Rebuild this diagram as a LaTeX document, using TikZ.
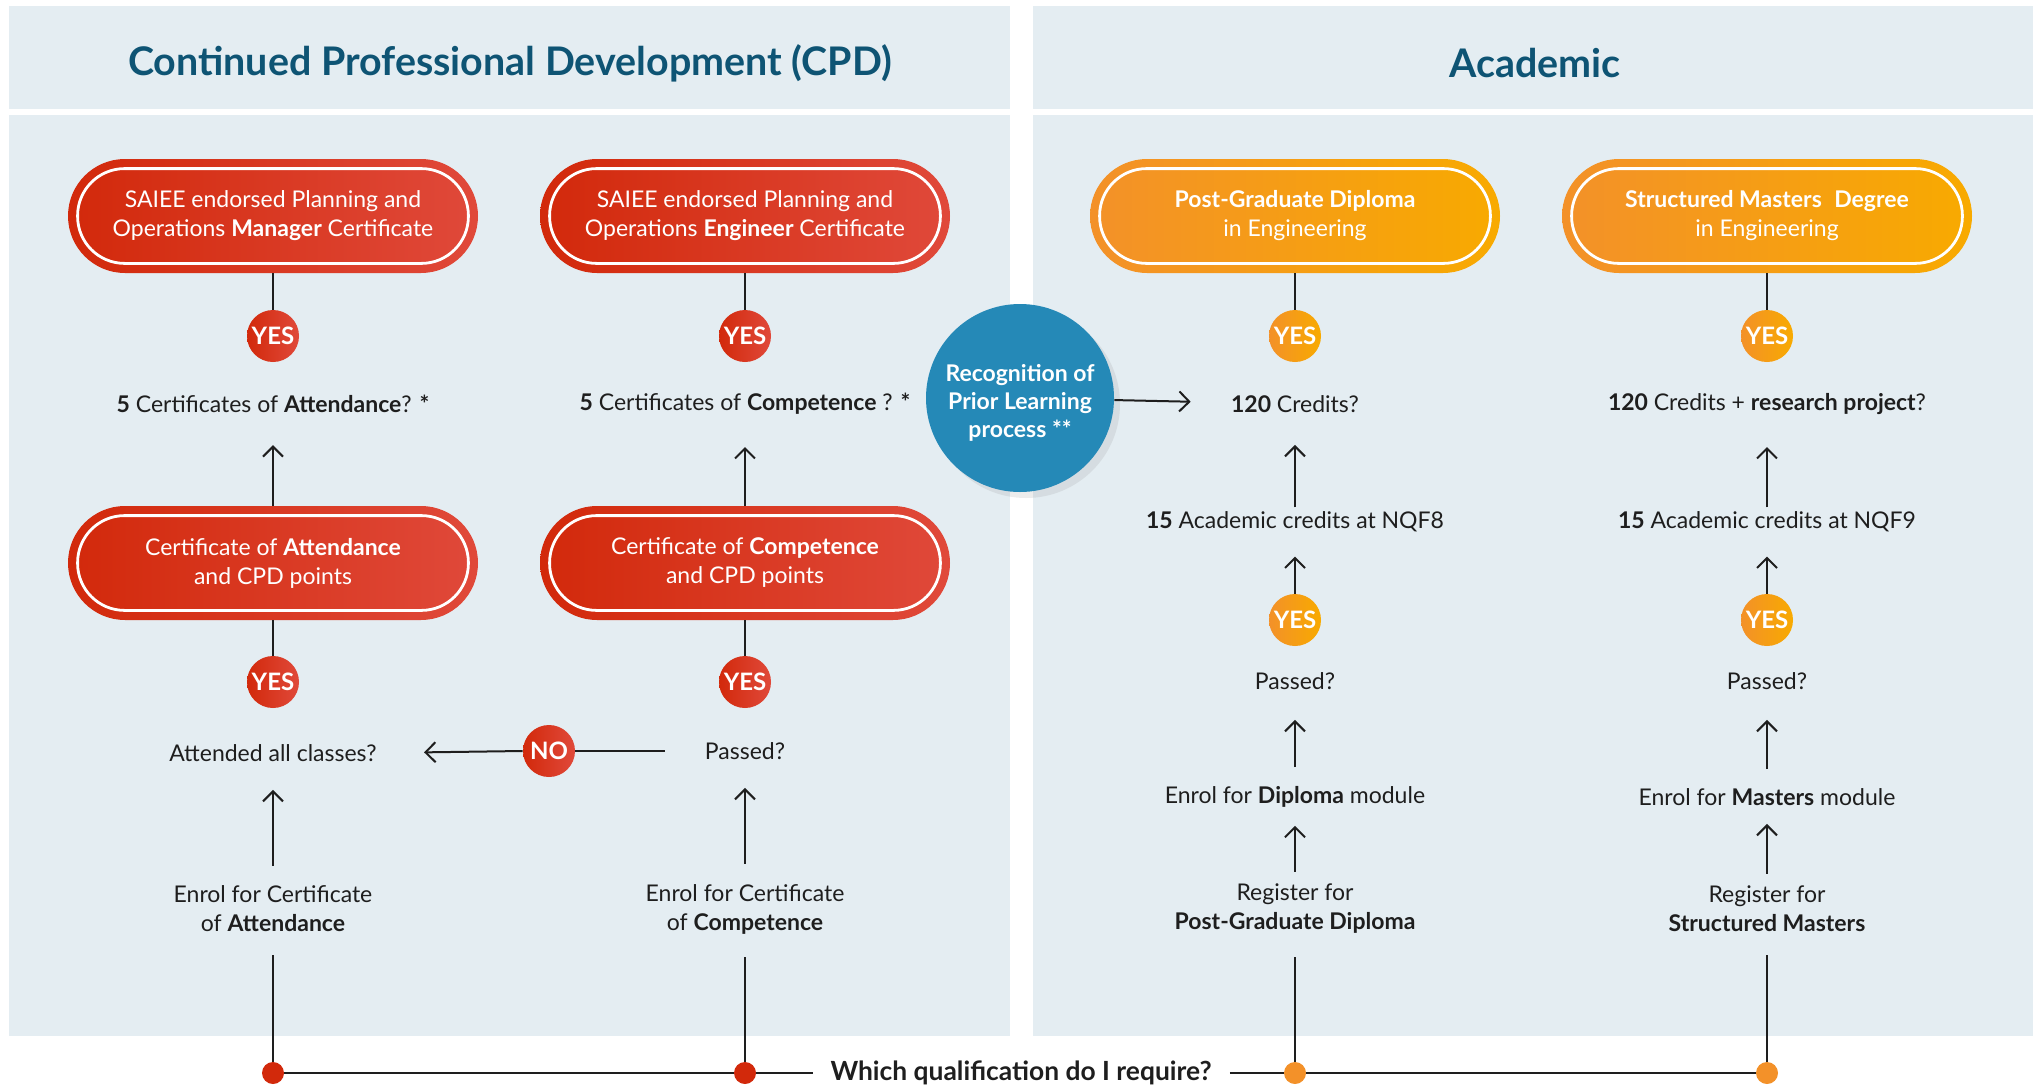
\documentclass[tikz,border=0pt]{standalone}
\usepackage{fontspec}
\setmainfont{Lato}
\usetikzlibrary{arrows.meta,shadows}

\definecolor{panel}{HTML}{E4EDF2}
\definecolor{title}{HTML}{0E5474}
\definecolor{redL}{HTML}{D2290B}
\definecolor{redR}{HTML}{E0493A}
\definecolor{orL}{HTML}{F39129}
\definecolor{orR}{HTML}{F8AA00}
\definecolor{rplblue}{HTML}{2589B7}
\definecolor{ink}{HTML}{1E1E1E}

\tikzset{
  pill/.style={rectangle, rounded corners=28.5pt, minimum width=205pt, minimum height=57pt,
    align=center, text=white, font=\fontsize{11.5}{14.5}\selectfont},
  redpill/.style={pill, left color=redL, right color=redR},
  orpill/.style={pill, left color=orL, right color=orR},
  yes/.style={circle, minimum size=26pt, inner sep=0pt, text=white, font=\fontsize{12}{14}\selectfont\bfseries},
  redyes/.style={yes, left color=redL, right color=redR},
  oryes/.style={yes, left color=orL, right color=orR},
  txt/.style={align=center, text=ink, inner sep=0pt, font=\fontsize{11.5}{14.5}\selectfont},
  hdr/.style={text=title, font=\fontsize{19.7}{22}\selectfont\bfseries},
  dot/.style={circle, minimum size=11pt, inner sep=0pt, fill=#1},
  link/.style={draw=ink, line width=1pt},
  arr/.style={link, -{Straight Barb[length=5pt,width=10pt]}},
}

\begin{document}
\begin{tikzpicture}[x=0.5pt,y=-0.5pt]
  \useasboundingbox (0,0) rectangle (2035,1087);
  % panels
  \fill[panel] (9,6) rectangle (1010,109);
  \fill[panel] (9,115) rectangle (1010,1036);
  \fill[panel] (1033,6) rectangle (2033,109);
  \fill[panel] (1033,115) rectangle (2033,1036);
  \node[hdr] (cpd) at (510,63) {Continued Professional Development (CPD)};
  \node[hdr] (acad) at (1535,63) {Academic};

  % CPD
  \node[redpill] (mgr) at (273,216) {SAIEE endorsed Planning and\\Operations \textbf{Manager} Certificate};
  \node[redpill] (eng) at (745,216) {SAIEE endorsed Planning and\\Operations \textbf{Engineer} Certificate};
  \node[redyes] (y1) at (273,336) {YES};
  \node[redyes] (y2) at (745,336) {YES};
  \node[txt] (q5a) at (273,404) {\textbf{5} Certificates of \textbf{Attendance}? \textbf{*}};
  \node[txt] (q5b) at (745,404) {\textbf{5} Certificates of \textbf{Competence} ? \textbf{*}};
  \node[redpill] (att) at (273,563) {Certificate of \textbf{Attendance}\\and CPD points};
  \node[redpill] (comp) at (745,563) {Certificate of \textbf{Competence}\\and CPD points};
  \node[redyes] (y3) at (273,682) {YES};
  \node[redyes] (y4) at (745,682) {YES};
  \node[txt] (attd) at (273,753) {Attended all classes?};
  \node[txt] (pass) at (745,751) {Passed?};
  \node[redyes] (no) at (549,751) {NO};
  \node[txt] (enra) at (273,909) {Enrol for Certificate\\of \textbf{Attendance}};
  \node[txt] (enrb) at (745,909) {Enrol for Certificate\\of \textbf{Competence}};

  % RPL
  \node[circle, minimum size=94pt, inner sep=0pt, fill=rplblue,
    drop shadow={opacity=0.15, shadow xshift=3pt, shadow yshift=-3pt},
    label={[text=white, align=center, font=\fontsize{11.5}{14}\selectfont\bfseries, yshift=-2.5pt]center:Recognition of\\Prior Learning\\process **}]
    (rpl) at (1020,398) {};

  % Academic
  \node[orpill] (pgd) at (1295,216) {\textbf{Post-Graduate Diploma}\\in Engineering};
  \node[orpill] (msd) at (1767,216) {\textbf{Structured Masters\hspace{0.3em} Degree}\\in Engineering};
  \node[oryes] (y5) at (1295,336) {YES};
  \node[oryes] (y6) at (1767,336) {YES};
  \node[txt] (cr) at (1295,404) {\textbf{120} Credits?};
  \node[txt] (crm) at (1767,404) {\textbf{120} Credits + \textbf{research project}?};
  \node[txt] (nqf8) at (1295,522) {\textbf{15} Academic credits at NQF8};
  \node[txt] (nqf9) at (1767,522) {\textbf{15} Academic credits at NQF9};
  \node[oryes] (y7) at (1295,620) {YES};
  \node[oryes] (y8) at (1767,620) {YES};
  \node[txt] (passc) at (1295,681) {Passed?};
  \node[txt] (passd) at (1767,681) {Passed?};
  \node[txt] (enrc) at (1295,797) {Enrol for \textbf{Diploma} module};
  \node[txt] (enrd) at (1767,797) {Enrol for \textbf{Masters} module};
  \node[txt] (regc) at (1295,909) {Register for\\\textbf{Post-Graduate Diploma}};
  \node[txt] (regd) at (1767,909) {Register for\\\textbf{Structured Masters}};

  % bottom
  \node[dot=redL] (da) at (273,1073) {};
  \node[dot=redL] (db) at (745,1073) {};
  \node[dot=orL] (dc) at (1295,1073) {};
  \node[dot=orL] (dd) at (1767,1073) {};
  \node[txt, font=\fontsize{13.2}{15}\selectfont\bfseries] (ask) at (1021,1073) {Which qualification do I require?};

  \foreach \p in {mgr,eng,att,comp,pgd,msd}
    \draw[white, line width=1.4pt, rounded corners=23.5pt]
      ([xshift=5pt,yshift=-5pt]\p.north west) rectangle ([xshift=-5pt,yshift=5pt]\p.south east);

  \foreach \a/\b in {mgr/y1,eng/y2,att/y3,comp/y4,pgd/y5,msd/y6}
    \draw[link] (\a.south) -- (\b.north);

  \draw[arr, shorten >=16pt] (att.north) -- (q5a.south);
  \draw[arr, shorten >=16pt] (comp.north) -- (q5b.south);
  \draw[arr, shorten <=10pt, shorten >=14pt] (enra.north) -- (attd.south);
  \draw[arr, shorten <=10pt, shorten >=14pt] (enrb.north) -- (pass.south);
  \draw[link, shorten <=20pt] (pass.west) -- (no.east);
  \draw[arr, shorten >=23.5pt] (no.west) -- (attd.east);
  \draw[arr, shorten >=20pt] (rpl) -- (cr);

  \foreach \c in {c,d}{
    \draw[arr, shorten <=6pt, shorten >=9pt] (reg\c.north) -- (enr\c.south);
    \draw[arr, shorten <=9.5pt, shorten >=15pt] (enr\c.north) -- (pass\c.south);
  }
  \draw[arr, shorten >=12pt] (y7.north) -- (nqf8.south);
  \draw[arr, shorten >=12pt] (y8.north) -- (nqf9.south);
  \draw[arr, shorten <=2pt, shorten >=16pt] (nqf8.north) -- (cr.south);
  \draw[arr, shorten <=2pt, shorten >=16pt] (nqf9.north) -- (crm.south);

  \draw[link, shorten <=11.5pt] (enra.south) -- (da);
  \draw[link, shorten <=11.5pt] (enrb.south) -- (db);
  \draw[link, shorten <=11.5pt] (regc.south) -- (dc);
  \draw[link, shorten <=11.5pt] (regd.south) -- (dd);
  \draw[link] (da) -- (db);
  \draw[link, shorten >=8.5pt] (db) -- (ask.west);
  \draw[link, shorten <=9pt] (ask.east) -- (dc);
  \draw[link] (dc) -- (dd);
\end{tikzpicture}
\end{document}
